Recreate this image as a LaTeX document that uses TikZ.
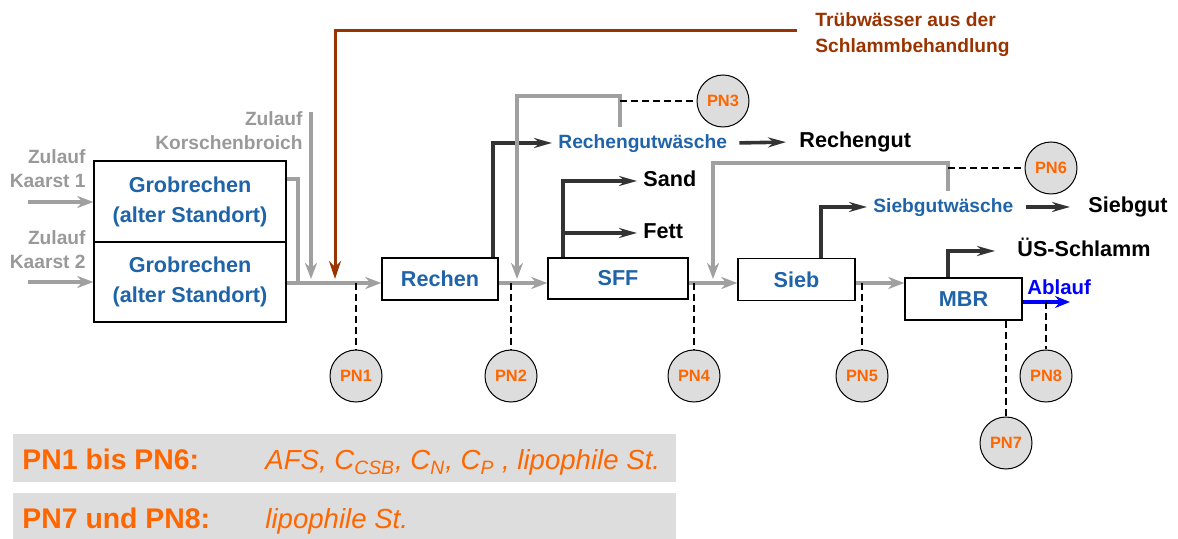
\documentclass[tikz,border=0pt]{standalone}
\usepackage{fontspec}
\setmainfont{Liberation Sans}
\usetikzlibrary{arrows.meta}
\definecolor{boxblue}{HTML}{1F63A8}
\definecolor{flowgray}{HTML}{A0A0A0}
\definecolor{textgray}{HTML}{999999}
\definecolor{flowdark}{HTML}{333333}
\definecolor{sludgebrown}{HTML}{993300}
\definecolor{ablaufblue}{HTML}{0000FF}
\definecolor{pnorange}{HTML}{FF6600}
\definecolor{pnfill}{HTML}{DDDDDD}
\begin{document}
\begin{tikzpicture}[x=0.5pt,y=-0.5pt,
    box/.style={draw=black, line width=0.7pt, fill=white, align=center, inner sep=0pt,
        font=\fontsize{10.8}{15}\selectfont\bfseries, text=boxblue},
    pn/.style={circle, draw=black, line width=0.5pt, fill=pnfill, minimum size=26pt, inner sep=0pt,
        font=\fontsize{8.2}{10}\selectfont\bfseries, text=pnorange},
    grayline/.style={draw=flowgray, line width=2pt},
    grayflow/.style={grayline, -{Stealth[length=8pt,width=6pt,inset=2.5pt]}},
    darkflow/.style={draw=flowdark, line width=1.8pt, -{Stealth[length=9pt,width=5pt,inset=3pt]}},
    brownflow/.style={draw=sludgebrown, line width=1.5pt, -{Stealth[length=9pt,width=6pt,inset=3pt]}},
    blueflow/.style={draw=ablaufblue, line width=2pt, -{Stealth[length=7.5pt,width=6pt,inset=2.5pt]}},
    probe/.style={draw=black, line width=0.65pt, dash pattern=on 3.5pt off 2pt},
    graylabel/.style={anchor=east, align=right, inner sep=0pt,
        font=\fontsize{9.6}{12}\selectfont\bfseries, text=textgray},
    output/.style={anchor=west, inner sep=3pt, text height=0.75em, text depth=0.2em,
        font=\fontsize{10.8}{13}\selectfont\bfseries},
    washer/.style={output, font=\fontsize{9.6}{12}\selectfont\bfseries, text=boxblue},
    legendkey/.style={anchor=base west, inner sep=0pt, font=\fontsize{14.2}{17}\selectfont\bfseries, text=pnorange},
    legendtext/.style={anchor=base west, inner sep=0pt, font=\fontsize{13.8}{17}\selectfont\itshape, text=pnorange}
]
\useasboundingbox (0,0) rectangle (1178,539);

% process units
\node[box, minimum width=96pt, minimum height=40.5pt] (gr1) at (190,201.5) {Grobrechen\\(alter Standort)};
\node[box, minimum width=96pt, minimum height=40pt] (gr2) at (190,282) {Grobrechen\\(alter Standort)};
\node[box, minimum width=58pt, minimum height=21pt] (rechen) at (440,279) {Rechen};
\node[box, minimum width=70pt, minimum height=20.5pt] (sff) at (618,278.5) {SFF};
\node[box, minimum width=58.5pt, minimum height=21pt] (sieb) at (796.5,279.5) {Sieb};
\node[box, minimum width=58.5pt, minimum height=21pt] (mbr) at (963.5,299) {MBR};

% inflows
\node[graylabel] (kaarst1) at (86,169) {Zulauf\\Kaarst 1};
\node[graylabel] (kaarst2) at (86,250) {Zulauf\\Kaarst 2};
\node[graylabel] (korsch) at (303,131) {Zulauf\\Korschenbroich};
\node[anchor=west, align=left, inner xsep=9pt, inner ysep=0pt,
    font=\fontsize{9.6}{13}\selectfont\bfseries, text=sludgebrown] (trueb) at (797,35) {Trübwässer aus der\\Schlammbehandlung};

\coordinate (main) at (0,283);
\coordinate (k1) at (28,202);
\coordinate (k2) at (28,282);
\coordinate (korschin) at (311,112);
\coordinate (j0) at (311,279);
\coordinate (merge) at (298,283);
\coordinate (bcorner) at (335,31);
\coordinate (bin) at (335,279);

\draw[grayflow] (k1) -- (gr1.west |- k1);
\draw[grayflow] (k2) -- (gr2.west |- k2);
\draw[grayline] ([yshift=11pt]gr1.east) -| (merge);
\draw[grayflow] (korschin) -- (j0);
\draw[brownflow] (trueb.west |- bcorner) -- (bcorner) -- (bin);

% main line
\draw[grayflow] (gr2.east |- main) -- (rechen.west |- main);
\draw[grayflow] (rechen.east |- main) -- (sff.west |- main);
\draw[grayflow] (sff.east |- main) -- (sieb.west |- main);
\draw[grayflow] (sieb.east |- main) -- (mbr.west |- main);

% Rechen
\node[washer] (rgw) at (552,143) {Rechengutwäsche};
\node[output] (rg) at (793,142) {Rechengut};
\coordinate (rechenup) at ([xshift=26.5pt]rechen.north);
\coordinate (rgwup) at ([xshift=-11.25pt]rgw.north);
\coordinate (rgwtop) at (517,96);
\coordinate (j2) at (517,279);
\draw[darkflow] (rechenup) |- (rgw.west);
\draw[darkflow, shorten <=3pt, shorten >=3.5pt] (rgw.east) -- (rg.west);
\draw[grayflow] (rgwup) |- (rgwtop) -- (j2);

% SFF
\node[output] (sand) at (637,181) {Sand};
\node[output] (fett) at (637,233) {Fett};
\coordinate (sffup) at ([xshift=-27.5pt]sff.north);
\draw[darkflow] (sffup) |- (sand.west);
\draw[darkflow] (sffup |- fett.west) -- (fett.west);

% Sieb
\node[washer] (sgw) at (867,207) {Siebgutwäsche};
\node[output] (siebgut) at (1082,207) {Siebgut};
\coordinate (siebup) at ([xshift=12.25pt]sieb.north);
\coordinate (sgwup) at ([xshift=2.5pt]sgw.north);
\coordinate (sgwtop) at (713,163);
\coordinate (j3) at (713,279);
\draw[darkflow] (siebup) |- (sgw.west);
\draw[darkflow, shorten <=3pt, shorten >=6pt] (sgw.east) -- (siebgut.west);
\draw[grayflow] (sgwup) |- (sgwtop) -- (j3);

% MBR
\node[output] (uss) at (1011,251) {ÜS-Schlamm};
\node[anchor=base west, inner sep=0pt, font=\fontsize{10.2}{12}\selectfont\bfseries, text=ablaufblue] (ablauf) at (1027,295) {Ablauf};
\coordinate (mbrup) at ([xshift=-7.75pt]mbr.north);
\coordinate (ablaufend) at (1070,302);
\draw[darkflow, shorten >=8pt] (mbrup) |- (uss.west);
\draw[blueflow] (mbr.east |- ablaufend) -- (ablaufend);

% sampling points
\node[pn] (pn1) at (356,376) {PN1};
\node[pn] (pn2) at (511,376) {PN2};
\node[pn] (pn3) at (723,101) {PN3};
\node[pn] (pn4) at (694,376) {PN4};
\node[pn] (pn5) at (862,376) {PN5};
\node[pn] (pn6) at (1051,168) {PN6};
\node[pn] (pn7) at (1006,443) {PN7};
\node[pn] (pn8) at (1046,376) {PN8};

\draw[probe] (pn1.north |- main) -- (pn1.north);
\draw[probe] (pn2.north |- main) -- (pn2.north);
\draw[probe] (pn4.north |- main) -- (pn4.north);
\draw[probe] (pn5.north |- main) -- (pn5.north);
\draw[probe] (pn3.west -| rgwup) -- (pn3.west);
\draw[probe] (pn6.west -| sgwup) -- (pn6.west);
\draw[probe] (pn7.north |- mbr.south) -- (pn7.north);
\draw[probe] (pn8.north |- ablaufend) -- (pn8.north);

% legend
\fill[pnfill] (13,434) rectangle (676,482);
\fill[pnfill] (13,493) rectangle (676,539);
\node[legendkey] (key1) at (22,470) {PN1 bis PN6:};
\node[legendtext] (val1) at (265,470) {AFS, C\textsubscript{CSB}, C\textsubscript{N}, C\textsubscript{P} , lipophile St.};
\node[legendkey] (key2) at (22,528) {PN7 und PN8:};
\node[legendtext] (val2) at (265,528) {lipophile St.};
\end{tikzpicture}
\end{document}
